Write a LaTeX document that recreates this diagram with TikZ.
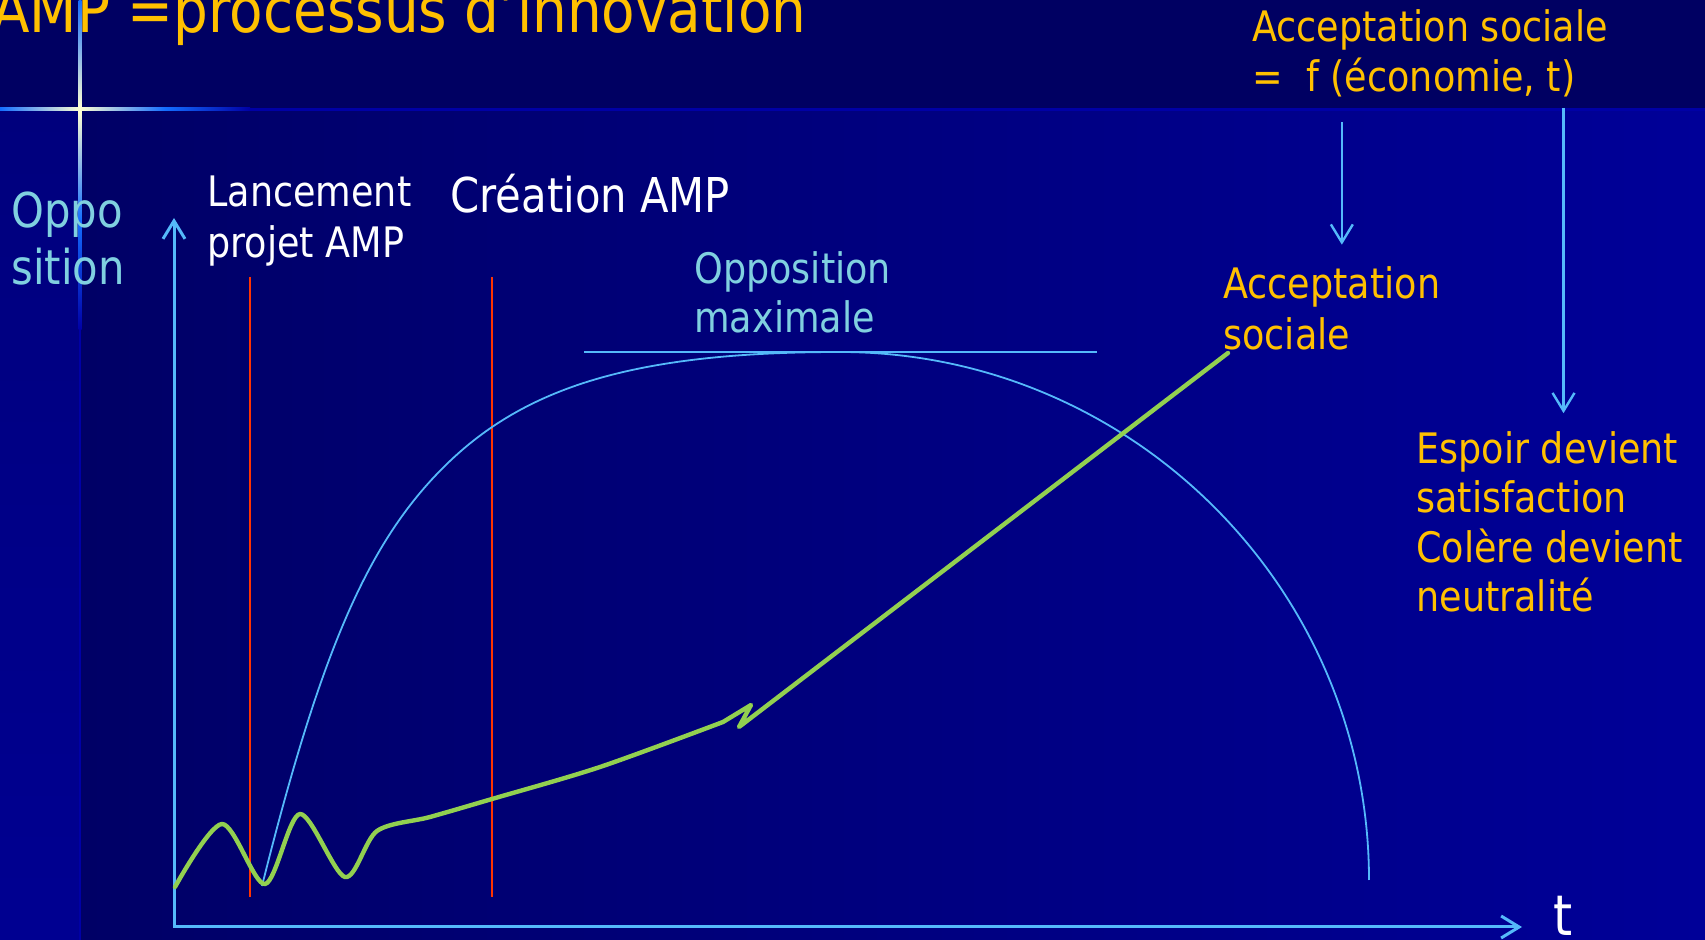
\documentclass[tikz,border=0pt]{standalone}
\usepackage{fontspec}
\setmainfont{DejaVu Sans}[FakeStretch=0.87]
\usepackage{xcolor}
\definecolor{ColOrange}{RGB}{255,192,0}
\definecolor{ColCyan}{RGB}{128,208,224}
\definecolor{ColAxis}{RGB}{85,185,250}
\definecolor{ColRed}{RGB}{255,51,0}
\definecolor{ColGreen}{RGB}{146,208,80}
\definecolor{ColBand}{RGB}{0,0,98}
\definecolor{ColDark}{RGB}{0,0,102}
\definecolor{ColDeep}{RGB}{0,0,152}
\definecolor{ColStrip}{RGB}{0,0,125}
\definecolor{ColStripLow}{RGB}{0,0,145}
\definecolor{ColRule}{RGB}{0,0,165}
\definecolor{ColGlow}{RGB}{255,255,210}
\definecolor{ColSpark}{RGB}{20,110,255}
\usepackage{tikz}
\usetikzlibrary{arrows.meta}
\tikzstyle{Axis}=[ColAxis,line width=1.5pt,
{Straight Barb[length=9pt,width=11pt]}-{Straight Barb[length=9pt,width=11pt]}]
\tikzstyle{Map}=[ColAxis,line width=1.2pt,-{Straight Barb[length=9pt,width=11pt]}]
\tikzstyle{Event}=[ColRed,line width=1pt]
\tikzstyle{Opposition}=[ColAxis,line width=0.9pt]
\tikzstyle{Acceptance}=[ColGreen,line width=2.2pt,line join=round,line cap=round]
\tikzstyle{Label}=[inner sep=0pt,align=left,anchor=base west]
\tikzstyle{Small}=[Label,font=\fontsize{21}{25}\selectfont]
\tikzstyle{Large}=[Label,font=\fontsize{24}{28.5}\selectfont]

\begin{document}
\begin{tikzpicture}[x=0.5pt,y=-0.5pt]
        \useasboundingbox(0,0)rectangle(1705,940);
        \clip(0,0)rectangle(1705,940);
        % background
        \fill[ColBand](0,0)rectangle(1705,108);
        \shade[left color=ColDark,right color=ColDeep](80,111)rectangle(1705,940);
        \shade[top color=ColStrip,bottom color=ColStripLow](0,111)rectangle(80,940);
        \fill[ColRule](0,108)rectangle(1705,111);
        \shade[left color=ColSpark,right color=ColGlow](0,108)rectangle(80,111);
        \shade[left color=ColGlow,right color=ColRule,middle color=ColSpark]
            (80,108)rectangle(250,111);
        \shade[top color=ColSpark,bottom color=ColGlow](78.5,0)rectangle(81.5,108);
        \shade[top color=ColGlow,bottom color=ColRule,middle color=ColSpark]
            (78.5,111)rectangle(81.5,330);
        \fill[ColRule](79,330)rectangle(81,940);
        % texts (base = last line)
        \node[Label,text=ColOrange,font=\fontsize{31.5}{36}\selectfont](Title)at(-8,33)
            {AMP =processus d’innovation};
        \node[Large,text=ColCyan](Oppo)at(11,285){Oppo\\sition};
        \node[Small,text=white,font=\fontsize{21}{25.5}\selectfont](Launch)at(207,258)
            {Lancement\\projet AMP};
        \node[Large,text=white](Creation)at(450,213){Création AMP};
        \node[Small,text=ColCyan,font=\fontsize{21}{24.5}\selectfont](Peak)at(694,333)
            {Opposition\\maximale};
        \node[Small,text=ColOrange](Law)at(1252,92)
            {Acceptation sociale\\=\ \ f (économie, t)};
        \node[Small,text=ColOrange,font=\fontsize{21}{25.5}\selectfont](Social)at(1223,350)
            {Acceptation\\sociale};
        \node[Small,text=ColOrange,font=\fontsize{21}{24.75}\selectfont](Hope)at(1416,612)
            {Espoir devient\\satisfaction\\Colère devient\\neutralité};
        \node[Label,text=white,font=\fontsize{28}{32}\selectfont](T)at(1553,936){t};
        % axes
        \coordinate(O)at(174,927);
        \coordinate(YEnd)at(174,218);
        \coordinate(XEnd)at(1522,927);
        \draw[Axis](YEnd)--(O)--(XEnd);
        % events
        \draw[Event](250,277)--(250,897);
        \draw[Event](492,277)--(492,897);
        % opposition
        \draw[Opposition](584,352)--(1097,352);
        \draw[Opposition](262,886)..controls(322,646)and(370,537)..(450,461)
            ..controls(530,385)and(640,352)..(840,352)
            ..controls(1132,352)and(1369,589)..(1369,880);
        % acceptance
        \draw[Acceptance]plot[smooth,tension=0.5]coordinates{(175,887)(222,824)
            (265,884)(300,814)(345,877)(377,831)(430,817)(492,799)(600,767)(723,722)}
            --(751,705)--(739,727)--(1228,353);
        % links
        \draw[Map,shorten <=12pt,shorten >=11pt]([xshift=5pt]Social.north|-Law.south)
            --([xshift=5pt]Social.north);
        \draw[Map,shorten <=5pt,shorten >=9pt]([xshift=7pt]Hope.north|-Law.south)
            --([xshift=7pt]Hope.north);
    \end{tikzpicture}
\end{document}
